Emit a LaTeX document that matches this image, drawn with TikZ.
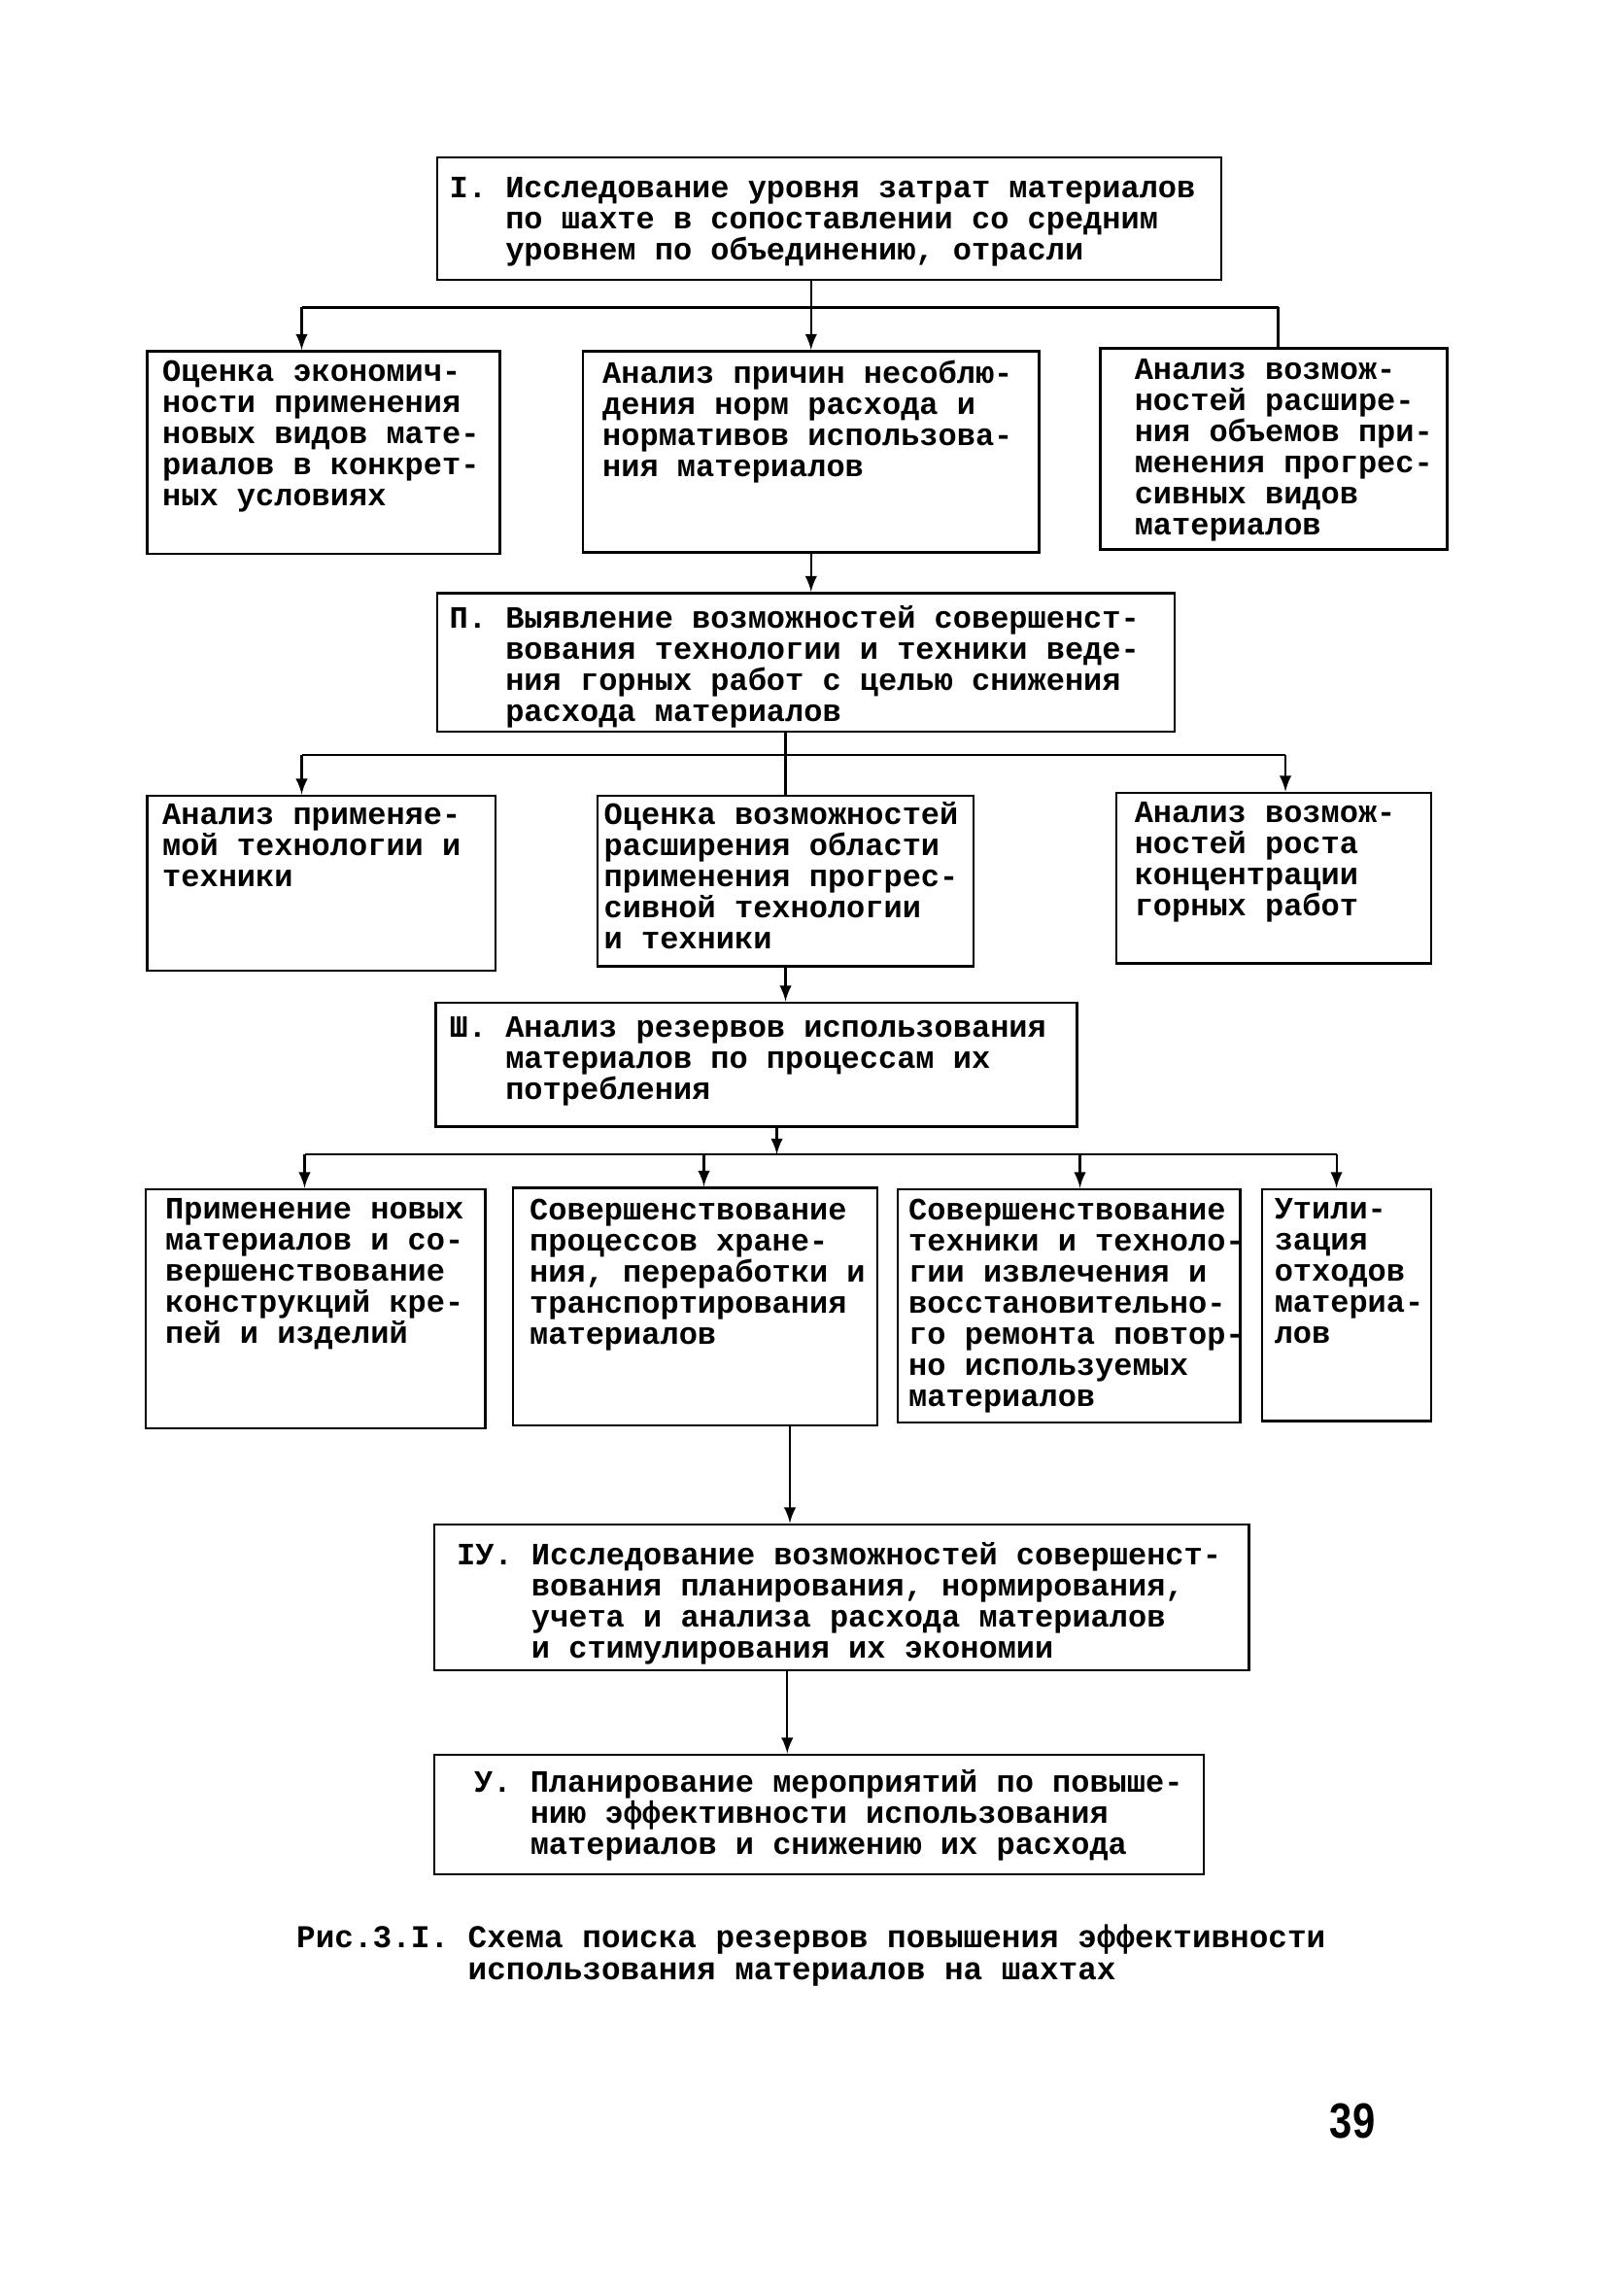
\documentclass[tikz,border=0pt]{standalone}
\usepackage{fontspec}
\newfontfamily\tw{Liberation Mono}
\newfontfamily\numfont{Liberation Sans}
\usetikzlibrary{fit}
\tikzset{
  box/.style={draw, thick, inner sep=0pt},
  txt/.style={anchor=north west, inner sep=0pt, align=left, font=\tw\bfseries\fontsize{9.1}{9.1}\selectfont},
  line/.style={semithick}
}
\newcommand\ind{\hspace*{1.8em}}

\begin{document}
\begin{tikzpicture}[>=latex, x=0.15mm, y=-0.15mm]
\useasboundingbox (0,0) rectangle (1102,1575.3);

% I
\node[box, fit={(300,108) (838,192)}] (one) {};
\node[txt] (onet) at (308,121) {I. Исследование уровня затрат материалов\\\ind по шахте в сопоставлении со средним\\\ind уровнем по объединению, отрасли};

% first row
\node[box, fit={(101,241) (343,380)}] (a1) {};
\node[box, fit={(400,241) (713,379)}] (a2) {};
\node[box, fit={(755,239) (993,377)}] (a3) {};
\node[txt] (a1t) at (111,247) {Оценка экономич-\\ности применения\\новых видов мате-\\риалов в конкрет-\\ных условиях};
\node[txt] (a2t) at (413,247) {Анализ причин несоблю-\\дения норм расхода и\\нормативов использова-\\ния материалов};
\node[txt] (a3t) at (778,246) {Анализ возмож-\\ностей расшире-\\ния объемов при-\\менения прогрес-\\сивных видов\\материалов};

\coordinate (p1) at (207,211);
\coordinate (q1) at (877,211);
\draw[line] (p1)--(q1);
\draw[line,->] (p1)--(p1 |- a1.north);
\draw[line] (q1)--(q1 |- a3.north);
\draw[line,->] (one.south -| a2.north)--(a2.north);

% II
\node[box, fit={(300,407) (806,502)}] (two) {};
\node[txt] (twot) at (308,415) {П. Выявление возможностей совершенст-\\\ind вования технологии и техники веде-\\\ind ния горных работ с целью снижения\\\ind расхода материалов};
\draw[line,->] (a2.south)--(a2.south |- two.north);

% second row
\node[box, fit={(101,546) (340,666)}] (b1) {};
\node[box, fit={(410,546) (668,663)}] (b2) {};
\node[box, fit={(766,544) (982,661)}] (b3) {};
\node[txt] (b1t) at (111,551) {Анализ применяе-\\мой технологии и\\техники};
\node[txt] (b2t) at (414,550) {Оценка возможностей\\расширения области\\применения прогрес-\\сивной технологии\\и техники};
\node[txt] (b3t) at (778,550) {Анализ возмож-\\ностей роста\\концентрации\\горных работ};

\coordinate (p2) at (207,518);
\coordinate (q2) at (882,518);
\draw[line] (p2)--(q2);
\draw[line,->] (p2)--(p2 |- b1.north);
\draw[line,->] (q2)--(q2 |- b3.north);
\draw[line] (two.south -| b2.north)--(b2.north);

% III
\node[box, fit={(299,688) (739,773)}] (three) {};
\node[txt] (threet) at (308,697) {Ш. Анализ резервов использования\\\ind материалов по процессам их\\\ind потребления};
\draw[line,->] (b2.south)--(b2.south |- three.north);

% third row
\node[box, fit={(100,816) (333,980)}] (c1) {};
\node[box, fit={(352,815) (602,978)}] (c2) {};
\node[box, fit={(616,816) (851,976)}] (c3) {};
\node[box, fit={(866,816) (982,975)}] (c4) {};
\node[txt] (c1t) at (113,822) {Применение новых\\материалов и со-\\вершенствование\\конструкций кре-\\пей и изделий};
\node[txt] (c2t) at (363,822) {Совершенствование\\процессов хране-\\ния, переработки и\\транспортирования\\материалов};
\node[txt] (c3t) at (623,822) {Совершенствование\\техники и техноло-\\гии извлечения и\\восстановительно-\\го ремонта повтор-\\но используемых\\материалов};
\node[txt] (c4t) at (874,822) {Утили-\\зация\\отходов\\материа-\\лов};

\coordinate (p3) at (209,792);
\coordinate (m3) at (533,792);
\coordinate (q3) at (917,792);
\draw[line] (p3)--(q3);
\draw[line,->] (three.south -| m3)--(m3);
\draw[line,->] (p3)--(p3 |- c1.north);
\draw[line,->] (p3 -| 483,0)--(c2.north -| 483,0);
\draw[line,->] (p3 -| 741,0)--(c3.north -| 741,0);
\draw[line,->] (q3)--(q3 |- c4.north);

% IV
\node[box, fit={(298,1046) (857,1146)}] (four) {};
\node[txt] (fourt) at (313,1058) {IУ. Исследование возможностей совершенст-\\\hspace*{2.4em}вования планирования, нормирования,\\\hspace*{2.4em}учета и анализа расхода материалов\\\hspace*{2.4em}и стимулирования их экономии};
\draw[line,->] ([xshift=9.75mm]c2.south)--([xshift=9.75mm]c2.south |- four.north);

% V
\node[box, fit={(298,1204) (826,1286)}] (five) {};
\node[txt] (fivet) at (325,1214) {У. Планирование мероприятий по повыше-\\\ind нию эффективности использования\\\ind материалов и снижению их расхода};
\draw[line,->] ([xshift=-5.6mm]four.south)--([xshift=-5.6mm]four.south |- five.north);

% caption and page
\node[txt, font=\tw\bfseries\fontsize{9.3}{9.3}\selectfont] (cap) at (203,1320) {Рис.3.I. Схема поиска резервов повышения эффективности\\\hspace*{5.4em}использования материалов на шахтах};
\node[xscale=0.82, transform shape, font=\numfont\bfseries\fontsize{14.5}{14.5}\selectfont] (page) at (928,1455) {39};

\end{tikzpicture}
\end{document}
